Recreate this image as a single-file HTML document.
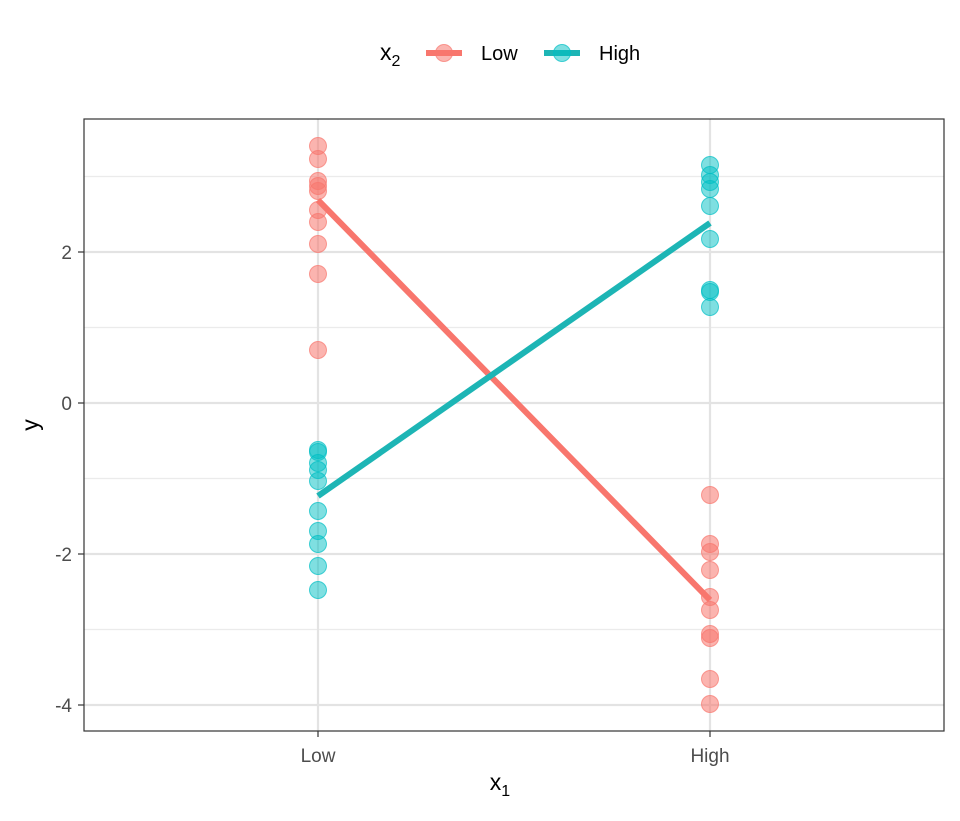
<!DOCTYPE html>
<html><head><meta charset="utf-8"><style>body{margin:0;background:#fff}</style></head><body>
<svg width="960" height="816" xmlns="http://www.w3.org/2000/svg" font-family="Liberation Sans, sans-serif">
<rect width="960" height="816" fill="#fff"/>
<g stroke="#ebebeb" stroke-width="1.2">
<line x1="84" x2="944" y1="176.5" y2="176.5"/><line x1="84" x2="944" y1="327.5" y2="327.5"/>
<line x1="84" x2="944" y1="478.5" y2="478.5"/><line x1="84" x2="944" y1="629.5" y2="629.5"/>
</g>
<g stroke="#e3e3e3" stroke-width="2.2">
<line x1="84" x2="944" y1="252" y2="252"/><line x1="84" x2="944" y1="403" y2="403"/>
<line x1="84" x2="944" y1="554" y2="554"/><line x1="84" x2="944" y1="705" y2="705"/>
<line x1="318" x2="318" y1="119" y2="731"/><line x1="710" x2="710" y1="119" y2="731"/>
</g>
<g fill="#F8766D" fill-opacity="0.55" stroke="#F8766D" stroke-opacity="0.7">
<circle cx="318" cy="146" r="8.5"/><circle cx="318" cy="159" r="8.5"/><circle cx="318" cy="181" r="8.5"/><circle cx="318" cy="186" r="8.5"/><circle cx="318" cy="191" r="8.5"/><circle cx="318" cy="210" r="8.5"/><circle cx="318" cy="222" r="8.5"/><circle cx="318" cy="244" r="8.5"/><circle cx="318" cy="274" r="8.5"/><circle cx="318" cy="350" r="8.5"/>
<circle cx="710" cy="495" r="8.5"/><circle cx="710" cy="544" r="8.5"/><circle cx="710" cy="552" r="8.5"/><circle cx="710" cy="570" r="8.5"/><circle cx="710" cy="597" r="8.5"/><circle cx="710" cy="610" r="8.5"/><circle cx="710" cy="634" r="8.5"/><circle cx="710" cy="638" r="8.5"/><circle cx="710" cy="679" r="8.5"/><circle cx="710" cy="704" r="8.5"/>
</g>
<g fill="#00BFC4" fill-opacity="0.5" stroke="#00BFC4" stroke-opacity="0.7">
<circle cx="318" cy="450" r="8.5"/><circle cx="318" cy="452" r="8.5"/><circle cx="318" cy="463" r="8.5"/><circle cx="318" cy="470" r="8.5"/><circle cx="318" cy="481" r="8.5"/><circle cx="318" cy="511" r="8.5"/><circle cx="318" cy="531" r="8.5"/><circle cx="318" cy="544" r="8.5"/><circle cx="318" cy="566" r="8.5"/><circle cx="318" cy="590" r="8.5"/>
<circle cx="710" cy="165" r="8.5"/><circle cx="710" cy="175" r="8.5"/><circle cx="710" cy="182" r="8.5"/><circle cx="710" cy="189" r="8.5"/><circle cx="710" cy="206" r="8.5"/><circle cx="710" cy="239" r="8.5"/><circle cx="710" cy="290" r="8.5"/><circle cx="710" cy="292" r="8.5"/><circle cx="710" cy="307" r="8.5"/>
</g>
<line x1="318" y1="200" x2="710" y2="600" stroke="#F8766D" stroke-width="6"/>
<line x1="318" y1="496" x2="710" y2="223" stroke="#1DB5B5" stroke-width="6"/>
<rect x="84" y="119" width="860" height="612" fill="none" stroke="#333" stroke-width="1.2"/>
<g stroke="#333" stroke-width="1.2">
<line x1="78" x2="84" y1="252" y2="252"/><line x1="78" x2="84" y1="403" y2="403"/><line x1="78" x2="84" y1="554" y2="554"/><line x1="78" x2="84" y1="705" y2="705"/>
<line x1="318" x2="318" y1="731" y2="737"/><line x1="710" x2="710" y1="731" y2="737"/>
</g>
<g font-size="19" fill="#4d4d4d" text-anchor="end">
<text x="72" y="259">2</text><text x="72" y="410">0</text><text x="72" y="561">-2</text><text x="72" y="712">-4</text>
</g>
<g font-size="19" fill="#4d4d4d" text-anchor="middle">
<text x="318" y="762">Low</text><text x="710" y="762">High</text>
</g>
<text x="500" y="790" font-size="23" text-anchor="middle">x<tspan font-size="16" dy="6">1</tspan></text>
<text transform="translate(38,425) rotate(-90)" font-size="23" text-anchor="middle">y</text>
<text x="380" y="60" font-size="23">x<tspan font-size="16" dy="6">2</tspan></text>
<line x1="426" x2="462" y1="53" y2="53" stroke="#F8766D" stroke-width="6"/>
<circle cx="444" cy="53" r="8.5" fill="#F8766D" fill-opacity="0.55" stroke="#F8766D" stroke-opacity="0.7"/>
<text x="481" y="60" font-size="20">Low</text>
<line x1="544" x2="580" y1="53" y2="53" stroke="#1DB5B5" stroke-width="6"/>
<circle cx="562" cy="53" r="8.5" fill="#00BFC4" fill-opacity="0.5" stroke="#00BFC4" stroke-opacity="0.7"/>
<text x="599" y="60" font-size="20">High</text>
</svg>
</body></html>
